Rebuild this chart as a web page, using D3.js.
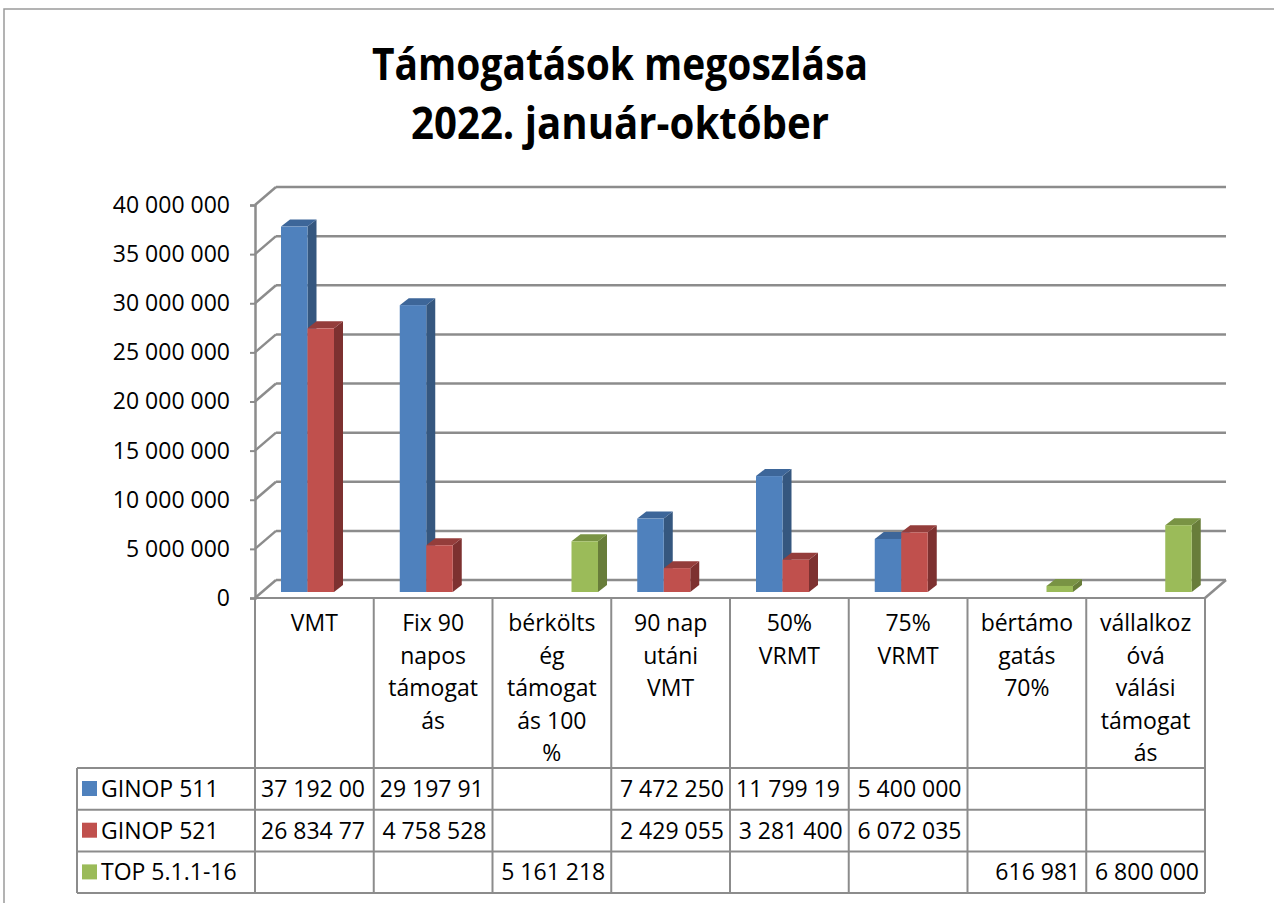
<!DOCTYPE html>
<html>
<head>
<meta charset="utf-8">
<script src="https://cdn.jsdelivr.net/npm/d3@7"></script>
<style>
  body { margin: 0; background: #fff; }
  svg { font-family: "Open Sans", sans-serif; }
</style>
</head>
<body>
<svg width="1274" height="903"></svg>
<script>
// chart data
var titleLines = ['Támogatások megoszlása', '2022. január-október'];
var categoryLines = [
    ['VMT'],
    ['Fix 90', 'napos', 'támogat', 'ás'],
    ['bérkölts', 'ég', 'támogat', 'ás 100', '%'],
    ['90 nap', 'utáni', 'VMT'],
    ['50%', 'VRMT'],
    ['75%', 'VRMT'],
    ['bértámo', 'gatás', '70%'],
    ['vállalkoz', 'óvá', 'válási', 'támogat', 'ás']
];
var seriesNames = ['GINOP 511', 'GINOP 521', 'TOP 5.1.1-16'];
var ginop511 = [37192000, 29197910, null, 7472250, 11799190, 5400000, null, null];
var ginop521 = [26834770, 4758528, null, 2429055, 3281400, 6072035, null, null];
var top511 = [null, null, 5161218, null, null, null, 616981, 6800000];
var tickValues = [0, 5000000, 10000000, 15000000, 20000000, 25000000, 30000000, 35000000, 40000000];

var seriesValues = [ginop511, ginop521, top511];
var colors = [
    {front: '#4F81BD', side: '#35577F', top: '#3D6699'},
    {front: '#C0504D', side: '#7D3130', top: '#943D3B'},
    {front: '#9BBB59', side: '#687D3A', top: '#799344'}
];

var svg = d3.select('svg');
var gridColor = '#8c8c8c';

// layout of the 3d box
var plot = {l: 255, r: 1205, floor: 598, top: 205};
var depth = {dx: 21, dy: -18};
var barDepth = {dx: 9, dy: -7};
var barBase = 592;

var fmt = d3.formatLocale({thousands: ' ', grouping: [3], decimal: ','}).format(',');

var x = d3.scaleBand()
    .domain(d3.range(categoryLines.length))
    .range([plot.l, plot.r]);

var y = d3.scaleLinear()
    .domain([0, 40000000])
    .range([plot.floor, plot.top]);

// outer chart border
svg.append('path')
    .attr('d', 'M4,903 V9 H1274')
    .attr('fill', 'none')
    .attr('stroke', '#9a9a9a')
    .attr('stroke-width', 1.5);

// title
svg.selectAll('.title')
    .data(titleLines)
    .enter()
    .append('text')
    .attr('class', 'title')
    .attr('x', 620)
    .attr('y', function(d, i) { return 80 + i * 59; })
    .attr('text-anchor', 'middle')
    .attr('textLength', function(d, i) { return i === 0 ? 496 : 418; })
    .attr('lengthAdjust', 'spacingAndGlyphs')
    .style('font-size', '44px')
    .style('font-weight', 'bold')
    .text(function(d) { return d; });

// back wall gridlines
var wallG = svg.append('g');
wallG.selectAll('.grid')
    .data(tickValues)
    .enter()
    .append('line')
    .attr('x1', plot.l + depth.dx)
    .attr('x2', plot.r + depth.dx)
    .attr('y1', function(d) { return y(d) + depth.dy; })
    .attr('y2', function(d) { return y(d) + depth.dy; })
    .attr('stroke', gridColor)
    .attr('stroke-width', 2.5);

// side wall lines
wallG.selectAll('.side')
    .data(tickValues)
    .enter()
    .append('line')
    .attr('x1', plot.l)
    .attr('x2', plot.l + depth.dx)
    .attr('y1', function(d) { return y(d); })
    .attr('y2', function(d) { return y(d) + depth.dy; })
    .attr('stroke', gridColor)
    .attr('stroke-width', 2.5);

// floor right edge
wallG.append('line')
    .attr('x1', plot.r)
    .attr('y1', plot.floor)
    .attr('x2', plot.r + depth.dx)
    .attr('y2', plot.floor + depth.dy)
    .attr('stroke', gridColor)
    .attr('stroke-width', 2.5);

// y axis
var yAxis = d3.axisLeft(y)
    .tickValues(tickValues)
    .tickSize(5)
    .tickPadding(20)
    .tickFormat(fmt);

var axisG = svg.append('g')
    .attr('transform', 'translate(' + plot.l + ',0)')
    .call(yAxis);
axisG.select('.domain').attr('stroke', gridColor).attr('stroke-width', 2.5);
axisG.selectAll('.tick line').attr('stroke', gridColor).attr('stroke-width', 2);
axisG.selectAll('.tick text')
    .style('font-size', '23px')
    .style('font-family', '"Open Sans", sans-serif')
    .attr('fill', '#000');

// bars
var h = d3.scaleLinear().domain([0, 40000000]).range([0, plot.floor - plot.top]);
var slot = 26.5;
var barsG = svg.append('g');

seriesValues.forEach(function(values, s) {
    var c = colors[s];
    var data = values.map(function(v, i) { return {v: v, i: i}; })
        .filter(function(d) { return d.v !== null; });

    var bars = barsG.selectAll('.bar' + s)
        .data(data)
        .enter()
        .append('g');

    function x0(d) { return x(d.i) + 26 + s * slot; }
    function yt(d) { return barBase - h(d.v); }

    // side face
    bars.append('polygon')
        .attr('points', function(d) {
            var x1 = x0(d) + slot, t = yt(d);
            return [[x1, t], [x1 + barDepth.dx, t + barDepth.dy],
                [x1 + barDepth.dx, barBase + barDepth.dy], [x1, barBase]].join(' ');
        })
        .attr('fill', c.side);

    // top face
    bars.append('polygon')
        .attr('points', function(d) {
            var xa = x0(d), x1 = xa + slot, t = yt(d);
            return [[xa, t], [xa + barDepth.dx, t + barDepth.dy],
                [x1 + barDepth.dx, t + barDepth.dy], [x1, t]].join(' ');
        })
        .attr('fill', c.top);

    // front face
    bars.append('rect')
        .attr('x', x0)
        .attr('y', yt)
        .attr('width', slot)
        .attr('height', function(d) { return h(d.v); })
        .attr('fill', c.front);
});

// data table
var tableG = svg.append('g');
var rowTop = 768, rowH = 41.7, legendL = 77;
var lineStyle = function(sel) {
    return sel.attr('stroke', gridColor).attr('stroke-width', 2);
};

// header labels
categoryLines.forEach(function(lines, i) {
    tableG.selectAll('.hdr' + i)
        .data(lines)
        .enter()
        .append('text')
        .attr('x', x(i) + x.bandwidth() / 2)
        .attr('y', function(d, j) { return 631 + j * 32.5; })
        .attr('text-anchor', 'middle')
        .style('font-size', '23px')
        .text(function(d) { return d; });
});

// vertical lines
tableG.selectAll('.vline')
    .data(d3.range(categoryLines.length + 1))
    .enter()
    .append('line')
    .attr('x1', function(i) { return i < categoryLines.length ? x(i) : plot.r; })
    .attr('x2', function(i) { return i < categoryLines.length ? x(i) : plot.r; })
    .attr('y1', plot.floor)
    .attr('y2', rowTop + 3 * rowH)
    .call(lineStyle);

tableG.append('line')
    .attr('x1', plot.l).attr('x2', plot.r)
    .attr('y1', plot.floor).attr('y2', plot.floor)
    .call(lineStyle);

tableG.append('line')
    .attr('x1', legendL).attr('x2', legendL)
    .attr('y1', rowTop).attr('y2', rowTop + 3 * rowH)
    .call(lineStyle);

tableG.selectAll('.hline')
    .data(d3.range(4))
    .enter()
    .append('line')
    .attr('x1', legendL).attr('x2', plot.r)
    .attr('y1', function(r) { return rowTop + r * rowH; })
    .attr('y2', function(r) { return rowTop + r * rowH; })
    .call(lineStyle);

// legend keys and names
seriesNames.forEach(function(name, s) {
    var ry = rowTop + s * rowH;
    tableG.append('rect')
        .attr('x', 82).attr('y', ry + 13)
        .attr('width', 15).attr('height', 15)
        .attr('fill', colors[s].front);
    tableG.append('text')
        .attr('x', 101).attr('y', ry + 29)
        .style('font-size', '23px')
        .text(name);
});

// values: right aligned, or cut to whole characters when too wide (like Excel)
var maxW = x.bandwidth() - 10;
seriesValues.forEach(function(values, s) {
    var ry = rowTop + s * rowH;
    values.forEach(function(v, i) {
        if (v === null) return;
        var label = fmt(v);
        var t = tableG.append('text')
            .attr('y', ry + 29)
            .style('font-size', '23px')
            .text(label);
        if (t.node().getComputedTextLength() > maxW) {
            while (label.length > 1 && t.node().getComputedTextLength() > maxW) {
                label = label.slice(0, -1);
                t.text(label);
            }
            t.attr('x', x(i) + 6);
        } else {
            t.attr('x', x(i) + x.bandwidth() - 6).attr('text-anchor', 'end');
        }
    });
});
</script>
</body>
</html>
